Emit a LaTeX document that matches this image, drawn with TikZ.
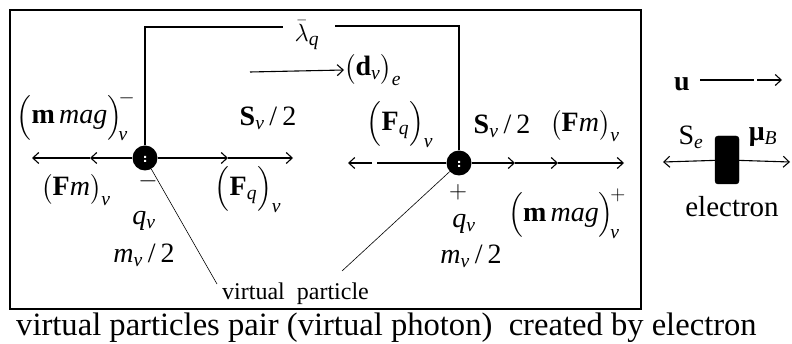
\documentclass[tikz,border=0pt]{standalone}
\usepackage{amsmath}
\usepackage{fontspec}
\setmainfont{Liberation Serif}
\usetikzlibrary{arrows.meta}
\begin{document}
\begin{tikzpicture}[x=1pt,y=-1pt,
  lbl/.style={inner sep=0pt,font=\fontsize{28}{32}\selectfont},
  captxt/.style={inner sep=0pt,font=\fontsize{32.6}{36}\selectfont},
  ln/.style={line width=1.1pt},
  ar/.style={line width=1.1pt,-{Straight Barb[length=6pt,width=11pt,line width=1.1pt]}},
  lead/.style={line width=0.6pt},
  dotp/.style={circle,fill=black,minimum size=25pt,inner sep=0pt}]
\useasboundingbox (0,0) rectangle (792,344);
% frame
\draw[line width=1.4pt] (10,10) rectangle (641,309);
% particles
\node[dotp] (L) at (145,158) {};
\node[dotp] (R) at (459,163) {};
\fill[white] (144,156) rectangle (146,158) (144,160) rectangle (146,162);
\fill[white] (458,161) rectangle (460,163) (458,165) rectangle (460,167);
% lambda link
\node[lbl] (lam) at (307,35) {$\bar{\lambda}_{\textit{q}}$};
\coordinate (lamL) at (283,27);
\coordinate (lamR) at (335,26);
\draw[ln] (L) |- (lamL);
\draw[ln] (lamR) -| (R);
% d arrow
\node[lbl,anchor=west] (d) at (344,70) {$\big(\textbf{d}_{\textit{v}}\big)_{\textit{e}}$};
\coordinate (d0) at (250,72);
\draw[ar] (d0) -- (d.west);
% left axis
\coordinate (La) at (32,158);
\coordinate (Lb) at (90,158);
\coordinate (Lc) at (228,158);
\coordinate (Ld) at (293,158);
\draw[ar] (L) -- (Lb);
\draw[ar] (Lb) -- (La);
\draw[ar] (L) -- (Lc);
\draw[ar] (Lc) -- (Ld);
% right axis
\coordinate (Ra) at (348,163);
\coordinate (Rg) at (372,163);
\coordinate (Rh) at (377,163);
\coordinate (Rb) at (515,163);
\coordinate (Rc) at (558,163);
\coordinate (Rd) at (624,163);
\draw[ln] (R) -- (Rh);
\draw[ar] (Rg) -- (Ra);
\draw[ar] (R) -- (Rb);
\draw[ar] (Rb) -- (Rc);
\draw[ar] (Rc) -- (Rd);
% left labels
\node[lbl] (mmL) at (76,116) {$\Big(\textbf{m}\,\textit{mag}\Big)^{\!-}_{\!\textit{v}}$};
\node[lbl] (SL) at (268,118) {\textbf{S}$_{\textit{v}}$\hspace{5pt}/\hspace{5pt}2};
\node[lbl] (FmL) at (76,190) {$\big(\textbf{F}\textit{m}\big)_{\textit{v}}$};
\node[lbl] (FqL) at (248,190) {$\Big(\textbf{F}_{\textit{q}}\Big)_{\textit{v}}$};
\node[lbl] (minL) at (148,181) {$-$};
\node[lbl] (qL) at (144,221) {\textit{q}$_{\textit{v}}$};
\node[lbl] (mL) at (144,255) {\textit{m}$_{\textit{v}}$\hspace{5pt}/\hspace{5pt}2};
\node[lbl,anchor=west,font=\fontsize{24}{28}\selectfont] (vp) at (222,294) {virtual\ \ particle};
\coordinate (lL) at (217,284);
\coordinate (lR) at (342,271);
\draw[lead] (L) -- (lL);
\draw[lead] (R) -- (lR);
% right labels
\node[lbl] (FqR) at (400,125) {$\Big(\textbf{F}_{\textit{q}}\Big)_{\textit{v}}$};
\node[lbl] (SR) at (502,126) {\textbf{S}$_{\textit{v}}$\hspace{5pt}/\hspace{5pt}2};
\node[lbl] (FmR) at (585,126) {$\big(\textbf{F}\textit{m}\big)_{\textit{v}}$};
\node[lbl] (plR) at (458,192) {$+$};
\node[lbl] (qR) at (464,224) {\textit{q}$_{\textit{v}}$};
\node[lbl] (mmR) at (567,214) {$\Big(\textbf{m}\,\textit{mag}\Big)^{\!+}_{\!\textit{v}}$};
\node[lbl] (mR) at (471,256) {\textit{m}$_{\textit{v}}$\hspace{5pt}/\hspace{5pt}2};
% electron
\node[lbl] (u) at (682,84) {\textbf{u}};
\coordinate (u0) at (700,80);
\coordinate (u1) at (754,80);
\coordinate (u2) at (757,80);
\coordinate (u3) at (782,80);
\draw[ln] (u0) -- (u1);
\draw[ar] (u2) -- (u3);
\node[draw,fill=black,rounded corners=3pt,minimum width=24pt,minimum height=48pt,inner sep=0pt] (e) at (727,160) {};
\coordinate (eL) at (663,162);
\coordinate (eR) at (790,162);
\draw[ar] (e) -- (eL);
\draw[ar] (e) -- (eR);
\node[lbl] (Se) at (691,137) {S$_{\textit{e}}$};
\node[lbl] (mu) at (763,137) {\textbf{μ}$_{\textit{B}}$};
\node[lbl,font=\fontsize{29}{32}\selectfont] (el) at (732,207) {electron};
% caption
\node[captxt,anchor=base west] (capt) at (16,336) {virtual particles pair (virtual photon)\ \ created by electron};
\end{tikzpicture}
\end{document}
